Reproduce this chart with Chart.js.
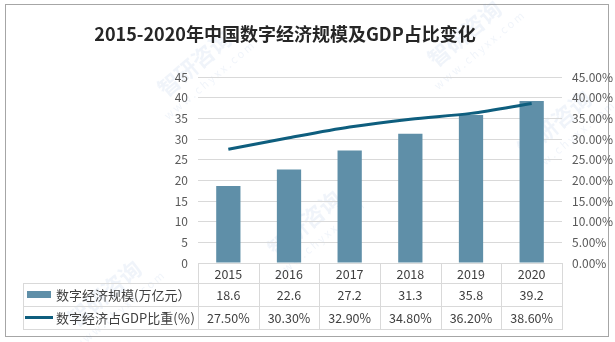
<!DOCTYPE html>
<html>
<head>
<meta charset="utf-8">
<title>2015-2020年中国数字经济规模及GDP占比变化</title>
<script src="https://cdn.jsdelivr.net/npm/chart.js@4.4.0/dist/chart.umd.min.js"></script>
<style>
  html, body { margin: 0; padding: 0; background: #fff; }
  canvas { display: block; }
</style>
</head>
<body>
<canvas id="myChart" width="615" height="342"></canvas>
<script>
// 年份 / 规模（万亿元）/ 占GDP比重（%）
const years = ['2015', '2016', '2017', '2018', '2019', '2020'];
const scaleValues = [18.6, 22.6, 27.2, 31.3, 35.8, 39.2];
const shareValues = [27.5, 30.3, 32.9, 34.8, 36.2, 38.6];
const leftTicks = [0, 5, 10, 15, 20, 25, 30, 35, 40, 45];
const rightTicks = [0, 5, 10, 15, 20, 25, 30, 35, 40, 45];
const seriesNames = ['数字经济规模(万亿元）', '数字经济占GDP比重(％)'];
const chartTitle = '2015-2020年中国数字经济规模及GDP占比变化';

const barColor = '#5f8fa8';
const lineColor = '#0e5e7e';
const gridColor = '#d9d9d9';
const textColor = '#404040';
const fontFamily = '"Noto Sans CJK SC", "Liberation Sans", sans-serif';

const plotLeft = 198, plotRight = 562, plotTop = 77, plotBottom = 263;
const rowLines = [263, 283, 306, 329];
const tableLeft = 23;

// 背景、外框、标题、水印
const framePlugin = {
  id: 'frame',
  beforeDraw(chart) {
    const ctx = chart.ctx;
    ctx.save();
    ctx.fillStyle = '#fff';
    ctx.fillRect(0, 0, chart.width, chart.height);
    ctx.strokeStyle = '#a6a6a6';
    ctx.lineWidth = 1;
    ctx.strokeRect(5.5, 4.5, 603, 332);

    // 水印
    ctx.fillStyle = 'rgba(110,150,205,0.10)';
    const marks = [[200, 70], [470, 40], [310, 230], [110, 300], [560, 130]];
    marks.forEach(([x, y]) => {
      ctx.save();
      ctx.translate(x, y);
      ctx.rotate(-0.7);
      ctx.font = 'bold 22px ' + fontFamily;
      ctx.textAlign = 'center';
      ctx.fillText('智研咨询', 0, 0);
      ctx.font = '11px ' + fontFamily;
      ctx.fillText('w w w . c h y x x . c o m', 0, 18);
      ctx.restore();
    });

    ctx.fillStyle = '#262626';
    ctx.font = 'bold 18px ' + fontFamily;
    ctx.textAlign = 'center';
    ctx.textBaseline = 'middle';
    ctx.fillText(chartTitle, 285, 34);
    ctx.restore();
  }
};

// 图表下方的数据表
const tablePlugin = {
  id: 'dataTable',
  afterDraw(chart) {
    const ctx = chart.ctx;
    const x = chart.scales.x;
    const n = years.length;
    const half = (x.getPixelForValue(1) - x.getPixelForValue(0)) / 2;
    const edges = [];
    for (let i = 0; i < n; i++) edges.push(x.getPixelForValue(i) - half);
    edges.push(x.getPixelForValue(n - 1) + half);

    ctx.save();
    ctx.strokeStyle = gridColor;
    ctx.lineWidth = 1;
    ctx.beginPath();
    edges.forEach(e => {
      const px = Math.round(e) + 0.5;
      ctx.moveTo(px, rowLines[0]);
      ctx.lineTo(px, rowLines[3]);
    });
    ctx.moveTo(tableLeft + 0.5, rowLines[1]);
    ctx.lineTo(tableLeft + 0.5, rowLines[3]);
    ctx.moveTo(Math.round(edges[0]), rowLines[0] + 0.5);
    ctx.lineTo(Math.round(edges[n]), rowLines[0] + 0.5);
    for (let r = 1; r < 4; r++) {
      ctx.moveTo(tableLeft, rowLines[r] + 0.5);
      ctx.lineTo(Math.round(edges[n]) + 1, rowLines[r] + 0.5);
    }
    ctx.stroke();

    ctx.fillStyle = textColor;
    ctx.font = '12.5px ' + fontFamily;
    ctx.textAlign = 'center';
    ctx.textBaseline = 'middle';
    for (let i = 0; i < n; i++) {
      const cx = x.getPixelForValue(i);
      ctx.fillText(years[i], cx, (rowLines[0] + rowLines[1]) / 2 + 1);
      ctx.fillText(scaleValues[i].toFixed(1), cx, (rowLines[1] + rowLines[2]) / 2 + 1);
      ctx.fillText(shareValues[i].toFixed(2) + '%', cx, (rowLines[2] + rowLines[3]) / 2 + 1);
    }

    // 图例色块
    const y1 = (rowLines[1] + rowLines[2]) / 2;
    const y2 = (rowLines[2] + rowLines[3]) / 2;
    ctx.fillStyle = barColor;
    ctx.fillRect(27, y1 - 3.5, 24, 7);
    ctx.strokeStyle = lineColor;
    ctx.lineWidth = 3;
    ctx.beginPath();
    ctx.moveTo(25, y2);
    ctx.lineTo(53, y2);
    ctx.stroke();

    ctx.fillStyle = textColor;
    ctx.textAlign = 'left';
    ctx.font = '13px ' + fontFamily;
    ctx.fillText(seriesNames[0], 56, y1 + 1);
    ctx.fillText(seriesNames[1], 56, y2 + 1);
    ctx.restore();
  }
};

const ctx = document.getElementById('myChart').getContext('2d');
new Chart(ctx, {
  type: 'bar',
  data: {
    labels: years,
    datasets: [
      {
        type: 'line',
        label: seriesNames[1],
        data: shareValues,
        yAxisID: 'y1',
        borderColor: lineColor,
        backgroundColor: lineColor,
        borderWidth: 3,
        pointRadius: 0,
        tension: 0.3,
        order: 0
      },
      {
        label: seriesNames[0],
        data: scaleValues,
        yAxisID: 'y',
        backgroundColor: barColor,
        barPercentage: 0.4,
        categoryPercentage: 1,
        order: 1
      }
    ]
  },
  options: {
    responsive: false,
    animation: false,
    devicePixelRatio: 1,
    layout: {
      padding: { left: 0, right: 0, top: plotTop, bottom: 342 - plotBottom }
    },
    plugins: {
      legend: { display: false },
      title: { display: false },
      tooltip: { enabled: false }
    },
    scales: {
      x: {
        display: false,
        offset: true
      },
      y: {
        position: 'left',
        min: 0,
        max: 45,
        afterFit(scale) { scale.width = plotLeft; },
        afterBuildTicks(scale) { scale.ticks = leftTicks.map(v => ({ value: v })); },
        border: { display: false },
        grid: { color: gridColor, drawTicks: false },
        ticks: {
          color: '#595959',
          padding: 10,
          font: { family: fontFamily, size: 12 }
        }
      },
      y1: {
        position: 'right',
        min: 0,
        max: 45,
        afterFit(scale) { scale.width = 615 - plotRight; },
        afterBuildTicks(scale) { scale.ticks = rightTicks.map(v => ({ value: v })); },
        border: { display: false },
        grid: { display: false, drawTicks: false },
        ticks: {
          color: '#595959',
          padding: 10,
          font: { family: fontFamily, size: 12 },
          callback: v => v.toFixed(2) + '%'
        }
      }
    }
  },
  plugins: [framePlugin, tablePlugin]
});
</script>
</body>
</html>
